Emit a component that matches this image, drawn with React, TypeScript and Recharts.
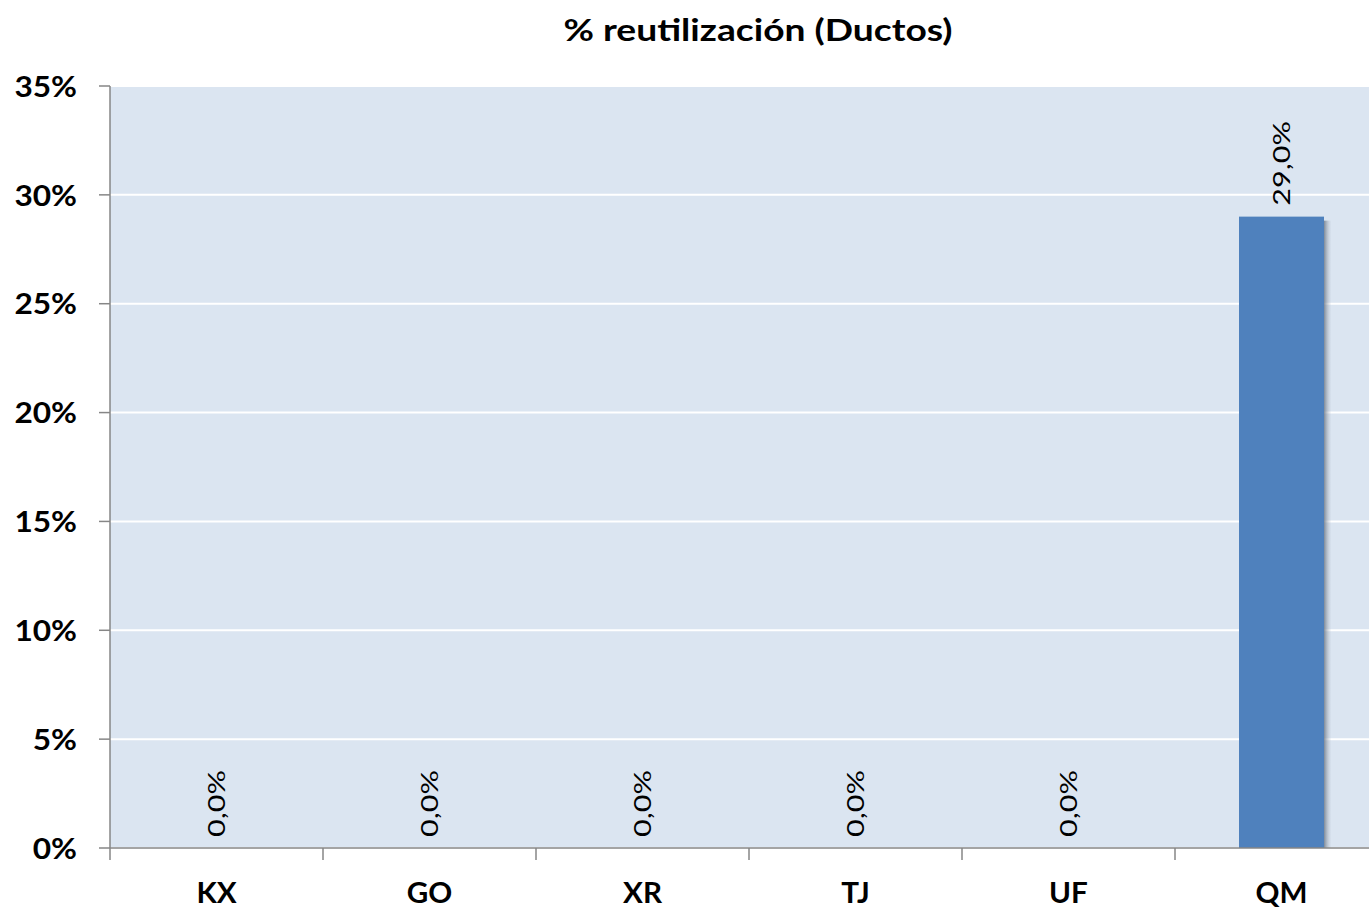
import React from "react";
import { BarChart, Bar, XAxis, YAxis, CartesianGrid, LabelList } from "recharts";

const categories = ["KX", "GO", "XR", "TJ", "UF", "QM"];
const values = [0, 0, 0, 0, 0, 29];
const yTicks = [0, 5, 10, 15, 20, 25, 30, 35];
const title = "% reutilización (Ductos)";

const data = categories.map((c, i) => ({ name: c, value: values[i] }));

const FONT = "Lato, 'Open Sans', sans-serif";

const ShadowBar = (props: any) => {
  const { x, y, width, height, fill } = props;
  if (!height || height <= 0) return null;
  return (
    <g>
      <rect x={x + width} y={y + 4} width={7} height={height - 4} fill="url(#shadowGrad)" />
      <rect x={x} y={y} width={width} height={height} fill={fill} />
    </g>
  );
};

const XTick = (props: any) => {
  const { x, payload } = props;
  const off = payload && payload.offset ? payload.offset : 0;
  return (
    <g>
      <line x1={x - off} x2={x - off} y1={848} y2={860} stroke="#868686" strokeWidth={1.5} />
      <text
        transform={`translate(${x}, 903) scale(1.06, 1)`}
        textAnchor="middle"
        fontFamily={FONT}
        fontWeight={700}
        fontSize={28}
        fill="#000"
      >
        {payload.value}
      </text>
    </g>
  );
};

const YTick = (props: any) => {
  const { x, y, payload } = props;
  return (
    <text
      transform={`translate(${x}, ${y}) scale(1.13, 1)`}
      textAnchor="end"
      dominantBaseline="central"
      fontFamily={FONT}
      fontWeight={700}
      fontSize={28}
      fill="#000"
    >
      {`${payload.value}%`}
    </text>
  );
};

const renderLabel = (props: any) => {
  const { x, y, width, value } = props;
  const cx = x + width / 2;
  const ty = y - 11;
  const txt = Number(value).toFixed(1).replace(".", ",") + "%";
  return (
    <text
      transform={`translate(${cx}, ${ty}) rotate(-90) scale(1.36, 1)`}
      textAnchor="start"
      dominantBaseline="central"
      fontFamily={FONT}
      fontSize={22.5}
      fill="#000"
    >
      {txt}
    </text>
  );
};

export default function App() {
  return (
    <div style={{ position: "absolute", left: 0, top: 0, width: 1369, height: 909, overflow: "hidden", background: "#fff" }}>
      <div
        style={{
          position: "absolute",
          left: 508,
          width: 500,
          top: 9,
          textAlign: "center",
          fontFamily: FONT,
          fontWeight: 700,
          fontSize: 31,
          color: "#000",
          lineHeight: "40px",
          transform: "scaleX(1.2)",
          transformOrigin: "center",
          whiteSpace: "nowrap",
        }}
      >
        {title}
      </div>
      <BarChart
        width={1400}
        height={909}
        data={data}
        margin={{ top: 86, right: 12, bottom: 0, left: 0 }}
        barCategoryGap={0}
      >
        <defs>
          <linearGradient id="shadowGrad" x1="0" y1="0" x2="1" y2="0">
            <stop offset="0%" stopColor="#6f7a88" stopOpacity={0.85} />
            <stop offset="100%" stopColor="#b8c2cf" stopOpacity={0.1} />
          </linearGradient>
        </defs>
        <CartesianGrid vertical={false} stroke="#ffffff" strokeWidth={2} fill="#DBE5F1" />
        <XAxis
          dataKey="name"
          height={61}
          axisLine={{ stroke: "#868686", strokeWidth: 1.5 }}
          tickLine={false}
          tick={<XTick />}
          interval={0}
        />
        <YAxis
          width={110}
          domain={[0, 35]}
          ticks={yTicks}
          interval={0}
          axisLine={{ stroke: "#868686", strokeWidth: 1.5 }}
          tickLine={{ stroke: "#868686", strokeWidth: 1.5 }}
          tickSize={11}
          tickMargin={22}
          tick={<YTick />}
        />
        <Bar dataKey="value" fill="#4F81BD" barSize={85} shape={<ShadowBar />} isAnimationActive={false}>
          <LabelList dataKey="value" content={renderLabel} />
        </Bar>
      </BarChart>
    </div>
  );
}
